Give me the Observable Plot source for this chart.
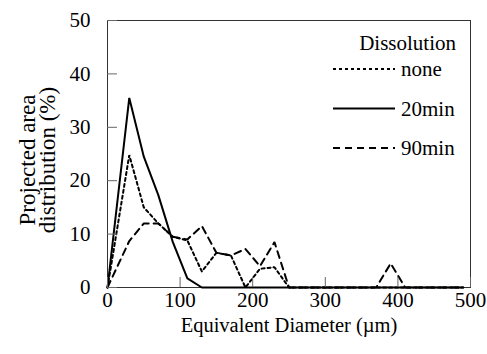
<!DOCTYPE html>
<html>
<head>
<meta charset="utf-8">
<script src="https://cdn.jsdelivr.net/npm/d3@7"></script>
<script src="https://cdn.jsdelivr.net/npm/@observablehq/plot@0.6"></script>
<style>
html, body { margin: 0; padding: 0; background: white; }
#chart { position: relative; width: 487px; height: 354px; }
#chart svg { display: block; }
#chart svg, #chart svg text { font-family: "Liberation Serif", serif !important; }
#legend { position: absolute; left: 0; top: 0; pointer-events: none; }
</style>
</head>
<body>
<div id="chart"></div>
<script>
// Equivalent diameter (µm)
const diameters = [0, 30, 50, 70, 90, 110, 130, 150, 170, 190, 210, 230, 250, 270, 290, 310, 330, 350, 370, 390, 410, 430, 450, 470, 490];
// Projected area distribution (%) per dissolution time
const noneValues = [0, 24.8, 15, 12, 9.5, 8.8, 3, 6.5, 6, 0, 3.5, 3.8, 0, 0, 0, 0, 0, 0, 0, 0, 0, 0, 0, 0, 0];
const min20Values = [0, 35.5, 24.5, 17.3, 8.5, 1.7, 0, 0, 0, 0, 0, 0, 0, 0, 0, 0, 0, 0, 0, 0, 0, 0, 0, 0, 0];
const min90Values = [0, 8.7, 12, 12, 9.5, 9, 11.5, 6.5, 6, 7.2, 4, 8.5, 0, 0, 0, 0, 0, 0, 0, 4.5, 0, 0, 0, 0, 0];
const seriesNames = ["none", "20min", "90min"];
const xTicks = [0, 100, 200, 300, 400, 500];
const yTicks = [0, 10, 20, 30, 40, 50];
const legendTitle = "Dissolution";
const xTitle = "Equivalent Diameter (µm)";
const yTitle = "Projected area\ndistribution (%)";

const dashes = {"none": "3,3", "20min": null, "90min": "7,5"};
const valuesBySeries = {"none": noneValues, "20min": min20Values, "90min": min90Values};

const rows = seriesNames.flatMap(s => diameters.map((d, i) => ({series: s, x: d, y: valuesBySeries[s][i]})));

const W = 487, H = 354;
const mL = 107, mR = 17, mT = 20, mB = 67;
const FONT = "Liberation Serif";

const plot = Plot.plot({
  width: W,
  height: H,
  marginLeft: mL,
  marginRight: mR,
  marginTop: mT,
  marginBottom: mB,
  style: {fontFamily: FONT, fontSize: "21px", color: "black", background: "white"},
  x: {domain: [0, 500], label: null},
  y: {domain: [0, 50], label: null},
  marks: [
    Plot.frame({stroke: "#333", strokeWidth: 1}),
    ...seriesNames.map(s => Plot.line(rows.filter(r => r.series === s), {
      x: "x", y: "y", stroke: "black", strokeWidth: 2,
      strokeDasharray: dashes[s] ?? undefined, strokeLinejoin: "miter"
    })),
    Plot.axisX({ticks: xTicks, tickSize: -10, tickPadding: 15, stroke: "#666",
      label: null, fontSize: 21, fontFamily: FONT}),
    Plot.axisY({ticks: yTicks, tickSize: -10, tickPadding: 27, stroke: "#666",
      label: null, fontSize: 21, fontFamily: FONT}),
    Plot.text([xTitle], {frameAnchor: "bottom", dy: 38, lineAnchor: "middle", textAnchor: "middle",
      text: d => d, fontSize: 20.5, fontFamily: FONT, fill: "black"}),
    Plot.text([yTitle], {frameAnchor: "left", dx: -69, dy: 6, rotate: -90, lineAnchor: "middle", textAnchor: "middle",
      text: d => d, fontSize: 23, fontFamily: FONT, fill: "black", lineHeight: 0.88})
  ]
});

const chart = document.getElementById("chart");
chart.appendChild(plot);

// Legend overlay inside the plot frame
const leg = d3.select(chart).append("svg")
  .attr("id", "legend")
  .attr("width", W).attr("height", H)
  .style("font-family", FONT)
  .style("font-size", "21px");

leg.append("text")
  .attr("x", 456).attr("y", 43)
  .attr("text-anchor", "end")
  .attr("dominant-baseline", "central")
  .attr("fill", "black")
  .text(legendTitle);

seriesNames.forEach((s, i) => {
  const y = 69 + i * 39.5;
  leg.append("line")
    .attr("x1", 333).attr("x2", 395).attr("y1", y).attr("y2", y)
    .attr("stroke", "black").attr("stroke-width", 2)
    .attr("stroke-dasharray", dashes[s]);
  leg.append("text")
    .attr("x", 401).attr("y", y)
    .attr("dominant-baseline", "central")
    .attr("fill", "black")
    .text(s);
});
</script>
</body>
</html>
